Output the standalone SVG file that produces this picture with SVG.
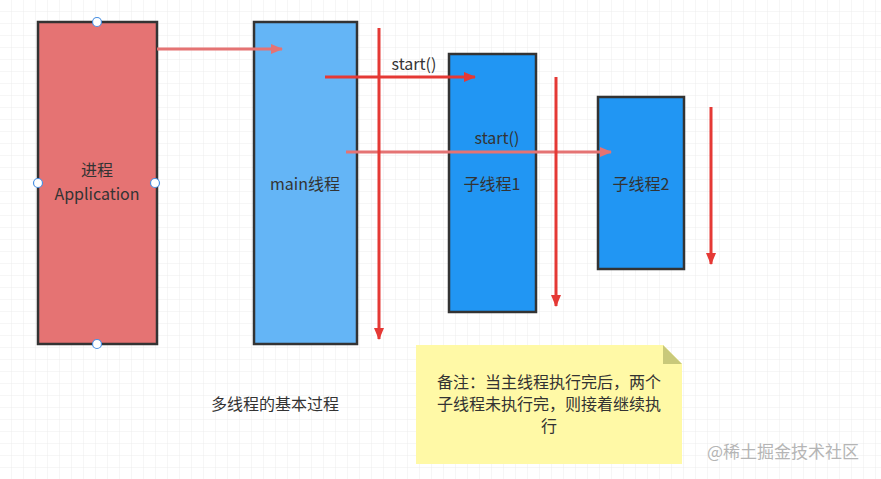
<svg xmlns="http://www.w3.org/2000/svg" width="881" height="479" viewBox="0 0 881 479">
<defs>
<pattern id="g" width="12" height="12" patternUnits="userSpaceOnUse"><path d="M12 0V12H0" fill="none" stroke="#ececec" stroke-width="1"/></pattern>
<marker id="ap" markerWidth="12" markerHeight="10" refX="11" refY="5" orient="auto" markerUnits="userSpaceOnUse" viewBox="0 0 12 10"><path d="M0,0 L12,5 L0,10 Z" fill="#e57373"/></marker>
<marker id="ar" viewBox="0 0 12 10" markerWidth="12" markerHeight="10" refX="11" refY="5" orient="auto" markerUnits="userSpaceOnUse"><path d="M0,0 L12,5 L0,10 Z" fill="#e53935"/></marker>
<style>
.b{stroke:#333;stroke-width:2.5}
.t{font-family:"Noto Sans CJK SC","Noto Sans",sans-serif;font-size:16px;fill:#333;text-anchor:middle}
.h{fill:#fff;stroke:#4a90e2;stroke-width:1.2}
.r{stroke:#e53935;stroke-width:3;fill:none}
.p{stroke:#e57373;stroke-width:3;fill:none}
</style>
</defs>
<rect width="881" height="479" fill="#fff"/>
<rect width="881" height="479" fill="url(#g)"/>
<g id="app"><rect x="38" y="22" width="119" height="322" fill="#e57373" class="b"/>
<text class="t" x="97" y="176">进程</text><text class="t" x="97" y="200">Application</text>
<circle class="h" cx="97" cy="22" r="4.5"/><circle class="h" cx="38" cy="183" r="4.5"/><circle class="h" cx="155" cy="183" r="4.5"/><circle class="h" cx="97" cy="344" r="4.5"/></g>
<g id="main"><rect x="254" y="22" width="103" height="322" fill="#64b5f6" class="b"/><text class="t" x="305" y="190">main线程</text></g>
<g id="t1"><rect x="449" y="54" width="87" height="258" fill="#2196f3" class="b"/><text class="t" x="492" y="190">子线程1</text></g>
<g id="t2"><rect x="598" y="97" width="86" height="172" fill="#2196f3" class="b"/><text class="t" x="641" y="190">子线程2</text></g>
<g id="note"><path d="M416 345H663L682 364V464H416Z" fill="#fff9a6"/><path d="M663 345V364H682Z" fill="#c9c97a"/>
<text class="t" x="549" y="388" font-size="14">备注：当主线程执行完后，两个</text><text class="t" x="549" y="410" font-size="14">子线程未执行完，则接着继续执</text><text class="t" x="549" y="432" font-size="14">行</text></g>
<g id="connectors">
<line class="p" x1="157" y1="49" x2="282" y2="49" marker-end="url(#ap)"/>
<line class="r" x1="325" y1="77" x2="475" y2="77" marker-end="url(#ar)"/>
<line class="p" x1="346" y1="152" x2="611" y2="152" marker-end="url(#ap)"/>
<line class="r" x1="379" y1="28" x2="379" y2="339" marker-end="url(#ar)"/>
<line class="r" x1="556" y1="77" x2="556" y2="306" marker-end="url(#ar)"/>
<line class="r" x1="711" y1="107" x2="711" y2="264" marker-end="url(#ar)"/>
<text class="t" x="414" y="70">start()</text>
<text class="t" x="497" y="144">start()</text>
</g>
<text class="t" x="275" y="410" font-size="14.5">多线程的基本过程</text>
<text x="783" y="458" style="font-family:'Noto Sans CJK SC',sans-serif;font-size:17px;fill:#b5b5b5;text-anchor:middle">@稀土掘金技术社区</text>
</svg>
